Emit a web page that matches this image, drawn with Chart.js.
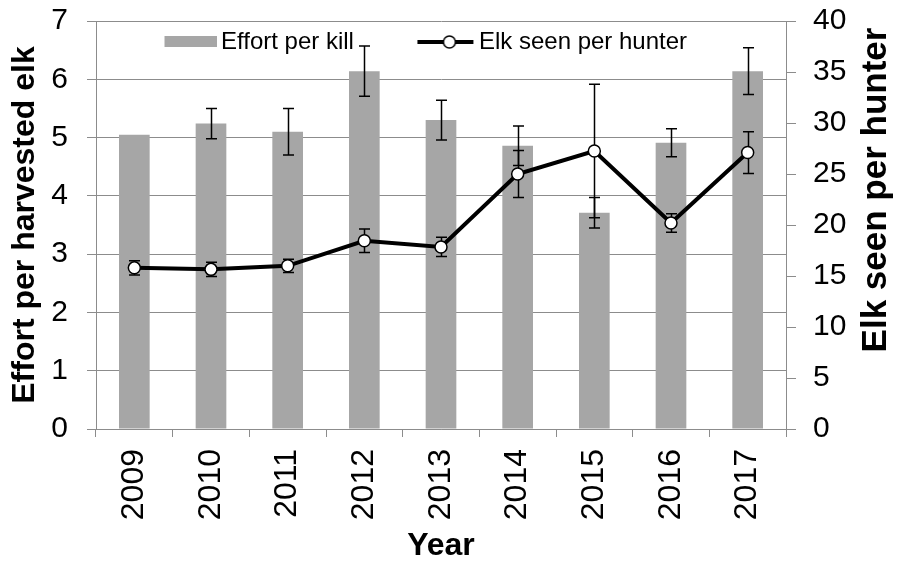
<!DOCTYPE html>
<html>
<head>
<meta charset="utf-8">
<script src="https://cdn.jsdelivr.net/npm/chart.js@4.4.1/dist/chart.umd.min.js"></script>
<style>
  html, body { margin: 0; padding: 0; background: #fff; }
  #wrap { width: 899px; height: 565px; position: relative; }
</style>
</head>
<body>
<div id="wrap"><canvas id="myChart"></canvas></div>
<script>
var years = ['2009', '2010', '2011', '2012', '2013', '2014', '2015', '2016', '2017'];
var effortPerKill = [5.05, 5.24, 5.10, 6.14, 5.30, 4.86, 3.71, 4.91, 6.14];
var effortErr = [0, 0.26, 0.40, 0.43, 0.34, 0.34, 0.26, 0.24, 0.40];
var elkSeen = [15.8, 15.65, 16.0, 18.45, 17.85, 25.0, 27.25, 20.2, 27.1];
var elkErr = [0.7, 0.7, 0.65, 1.15, 0.95, 2.3, 6.55, 0.9, 2.05];
var leftTicks = [0, 1, 2, 3, 4, 5, 6, 7];
var rightTicks = [0, 5, 10, 15, 20, 25, 30, 35, 40];

var FONT = "'Liberation Sans', Arial, sans-serif";
var gridGray = '#8c8c8c';
var barGray = '#a6a6a6';

// legend symbols drawn as small canvases
function barIcon() {
  var c = document.createElement('canvas');
  c.width = 108; c.height = 12;
  var g = c.getContext('2d');
  g.fillStyle = barGray;
  g.fillRect(56, 0, 52, 11);
  return c;
}
function lineIcon() {
  var c = document.createElement('canvas');
  c.width = 108; c.height = 16;
  var g = c.getContext('2d');
  g.strokeStyle = '#000';
  g.lineWidth = 4;
  g.beginPath(); g.moveTo(51, 8); g.lineTo(107, 8); g.stroke();
  g.beginPath(); g.arc(83, 8, 6, 0, Math.PI * 2);
  g.fillStyle = '#fff'; g.fill();
  g.lineWidth = 1.5; g.stroke();
  return c;
}
var icons = [barIcon(), lineIcon()];

function noPad(s) { s.paddingTop = 0; s.paddingBottom = 0; s.paddingLeft = 0; s.paddingRight = 0; }

var errorBars = {
  id: 'errorBars',
  beforeDatasetDraw: function(chart, args) {
    if (args.index !== 1) return;
    var ctx = chart.ctx, xs = chart.scales.x;
    function draw(vals, errs, ys) {
      for (var i = 0; i < vals.length; i++) {
        if (!errs[i]) continue;
        var x = Math.round(xs.getPixelForValue(i)) + 0.5;
        var top = ys.getPixelForValue(vals[i] + errs[i]);
        var bot = ys.getPixelForValue(vals[i] - errs[i]);
        ctx.beginPath();
        ctx.moveTo(x, top); ctx.lineTo(x, bot);
        ctx.moveTo(x - 5.5, top); ctx.lineTo(x + 5.5, top);
        ctx.moveTo(x - 5.5, bot); ctx.lineTo(x + 5.5, bot);
        ctx.stroke();
      }
    }
    ctx.save();
    ctx.strokeStyle = '#000';
    ctx.lineWidth = 1.5;
    draw(effortPerKill, effortErr, chart.scales.y);
    draw(elkSeen, elkErr, chart.scales.y2);
    ctx.restore();
  },
  beforeInit: function(chart) {
    // legend takes only a thin strip in the layout so it overlaps the plot
    var fit = chart.legend.fit;
    chart.legend.fit = function() {
      fit.call(this);
      this.height = 11;
    };
  },
  afterLayout: function(chart) {
    // give the legend room to draw (it clips to its own box)
    chart.legend.height = 70;
    chart.legend.bottom = chart.legend.top + 70;
  },
  afterDraw: function(chart) {
    var ctx = chart.ctx, s = chart.scales.y2, a = chart.chartArea;
    ctx.save();
    ctx.translate(s.right - 23, (a.top + a.bottom) / 2 - 35);
    ctx.rotate(-Math.PI / 2);
    ctx.font = 'bold 35px ' + FONT;
    ctx.fillStyle = '#000';
    ctx.textAlign = 'center';
    ctx.textBaseline = 'middle';
    ctx.fillText('Elk seen per hunter', 0, 0);
    ctx.restore();
  }
};

var ctx = document.getElementById('myChart').getContext('2d');
var myChart = new Chart(ctx, {
  type: 'bar',
  data: {
    labels: years,
    datasets: [{
      type: 'bar',
      label: 'Effort per kill',
      data: effortPerKill,
      backgroundColor: barGray,
      barPercentage: 0.4,
      categoryPercentage: 1.0,
      yAxisID: 'y',
      order: 1
    }, {
      type: 'line',
      label: 'Elk seen per hunter',
      data: elkSeen,
      borderColor: '#000',
      borderWidth: 4,
      pointRadius: 6,
      pointBackgroundColor: '#fff',
      pointBorderColor: '#000',
      pointBorderWidth: 1.5,
      tension: 0,
      yAxisID: 'y2',
      order: 0
    }]
  },
  options: {
    responsive: true,
    maintainAspectRatio: false,
    animation: false,
    layout: { padding: { top: 10, left: 0, right: 0, bottom: 0 } },
    plugins: {
      tooltip: { enabled: false },
      legend: {
        position: 'top',
        align: 'start',
        fullSize: false,
        labels: {
          usePointStyle: true,
          pointStyleWidth: 93,
          padding: 20,
          color: '#000',
          font: { family: FONT, size: 24 },
          generateLabels: function() {
            return ['Effort per kill', 'Elk seen per hunter'].map(function(t, i) {
              return { text: t, pointStyle: icons[i], fontColor: '#000', fillStyle: '#000',
                       strokeStyle: '#000', lineWidth: 0, hidden: false, datasetIndex: i };
            });
          }
        }
      }
    },
    scales: {
      x: {
        afterFit: function(s) { s.height = 136; noPad(s); },
        grid: { drawOnChartArea: false, drawTicks: true, tickLength: 8, color: gridGray },
        border: { color: gridGray, width: 1 },
        ticks: { color: '#000', font: { family: FONT, size: 32 }, minRotation: 90, maxRotation: 90, padding: 12, autoSkip: false },
        title: { display: true, text: 'Year', color: '#000', font: { family: FONT, size: 32, weight: 'bold' }, padding: { top: 0, bottom: 0 } }
      },
      y: {
        position: 'left',
        min: 0, max: 7,
        afterFit: function(s) { s.width = 96; noPad(s); },
        afterBuildTicks: function(s) { s.ticks = leftTicks.map(function(v) { return { value: v }; }); },
        grid: { color: gridGray, tickLength: 9 },
        border: { color: gridGray, width: 1 },
        ticks: { color: '#000', font: { family: FONT, size: 30 }, padding: 19 },
        title: { display: true, text: 'Effort per harvested elk', color: '#000', font: { family: FONT, size: 32, weight: 'bold' }, padding: { top: 6, bottom: 0 } }
      },
      y2: {
        position: 'right',
        min: 0, max: 40,
        afterFit: function(s) { s.width = 113; noPad(s); },
        afterBuildTicks: function(s) { s.ticks = rightTicks.map(function(v) { return { value: v }; }); },
        grid: { drawOnChartArea: false, color: gridGray, tickLength: 10 },
        border: { color: gridGray, width: 1 },
        ticks: { color: '#000', font: { family: FONT, size: 30 }, padding: 17 }
      }
    }
  },
  plugins: [errorBars]
});
</script>
</body>
</html>
